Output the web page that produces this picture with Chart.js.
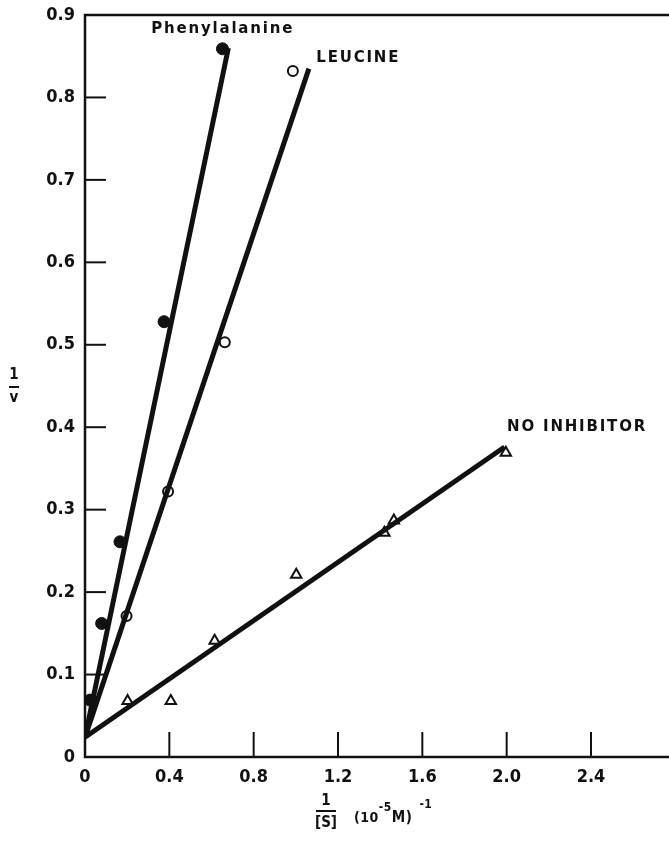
<!DOCTYPE html>
<html>
<head>
<meta charset="utf-8">
<script src="https://cdn.jsdelivr.net/npm/chart.js@4.4.1/dist/chart.umd.min.js"></script>
<style>
  html, body { margin: 0; padding: 0; background: #fff; overflow: hidden; }
  canvas { display: block; }
</style>
</head>
<body>
<canvas id="lineweaver" width="669" height="841"></canvas>
<script>
const pheX = [0.024, 0.079, 0.166, 0.375, 0.652];
const pheY = [0.069, 0.162, 0.261, 0.528, 0.859];
const leuX = [0.197, 0.394, 0.663, 0.986];
const leuY = [0.171, 0.322, 0.503, 0.832];
const noInhX = [0.202, 0.407, 0.615, 1.002, 1.42, 1.465, 1.996];
const noInhY = [0.068, 0.068, 0.141, 0.221, 0.272, 0.287, 0.369];

// fitted lines: start and end of each drawn line
const pheFitX = [0, 0.68];
const pheFitY = [0.024, 0.86];
const leuFitX = [0, 1.062];
const leuFitY = [0.024, 0.835];
const noInhFitX = [0, 1.99];
const noInhFitY = [0.024, 0.376];

const xTicks = [0, 0.4, 0.8, 1.2, 1.6, 2.0, 2.4];
const yTicks = [0, 0.1, 0.2, 0.3, 0.4, 0.5, 0.6, 0.7, 0.8, 0.9];

const labels = [
    { text: "Phenylalanine", x: 0.653, y: 0.883, align: "center" },
    { text: "LEUCINE", x: 1.097, y: 0.848, align: "left" },
    { text: "NO INHIBITOR", x: 2.002, y: 0.4, align: "left" }
];

function pts(xs, ys) {
    return xs.map((x, i) => ({ x: x, y: ys[i] }));
}

const ink = "#111";
const fam = "'DejaVu Sans Condensed', 'DejaVu Sans', sans-serif";

// draws pieces of text one after another, each with its own size and lift
function runText(ctx, x, y, parts) {
    parts.forEach(p => {
        ctx.font = "bold " + p.size + "px " + fam;
        ctx.fillText(p.t, x, y - (p.up || 0));
        x += ctx.measureText(p.t).width + (p.gap || 0);
    });
}

// inward tick marks, frame, series labels and axis titles
const decorations = {
    id: "decorations",
    afterDraw(chart) {
        const ctx = chart.ctx;
        const xs = chart.scales.x;
        const ys = chart.scales.y;
        const area = chart.chartArea;
        ctx.save();
        ctx.strokeStyle = ink;
        ctx.fillStyle = ink;

        // frame: left, bottom, top (right edge is cut off)
        ctx.lineWidth = 2.5;
        ctx.beginPath();
        ctx.moveTo(area.right, area.top);
        ctx.lineTo(area.left, area.top);
        ctx.lineTo(area.left, area.bottom);
        ctx.lineTo(area.right, area.bottom);
        ctx.stroke();

        ctx.lineWidth = 2;
        yTicks.slice(1, -1).forEach(v => {
            const py = ys.getPixelForValue(v);
            ctx.beginPath();
            ctx.moveTo(area.left, py);
            ctx.lineTo(area.left + 21, py);
            ctx.stroke();
        });
        xTicks.slice(1).forEach(v => {
            const px = xs.getPixelForValue(v);
            ctx.beginPath();
            ctx.moveTo(px, area.bottom);
            ctx.lineTo(px, area.bottom - 25);
            ctx.stroke();
        });

        // series labels
        ctx.font = "bold 15px 'DejaVu Sans', sans-serif";
        ctx.letterSpacing = "1.8px";
        ctx.textBaseline = "middle";
        labels.forEach(l => {
            ctx.textAlign = l.align;
            ctx.fillText(l.text, xs.getPixelForValue(l.x), ys.getPixelForValue(l.y));
        });

        // y title: 1 over v
        ctx.letterSpacing = "0px";
        ctx.textAlign = "center";
        ctx.font = "bold 15px " + fam;
        const tx = 14, ty = 387;
        ctx.fillText("1", tx, ty - 12);
        ctx.fillRect(tx - 5, ty - 1, 10, 2);
        ctx.fillText("v", tx, ty + 11);

        // x title: 1 over [S], then (10^-5 M)^-1
        const fx = 326, fy = 811;
        ctx.fillText("1", fx, fy - 10);
        ctx.fillRect(fx - 10, fy - 1, 20, 2);
        ctx.fillText("[S]", fx, fy + 12);
        ctx.textAlign = "left";
        ctx.letterSpacing = "0.5px";
        runText(ctx, 354, fy + 7, [
            { t: "(10", size: 14 },
            { t: "-5", size: 12, up: 10 },
            { t: "M)", size: 15, gap: 7 },
            { t: "-1", size: 12, up: 13 }
        ]);
        ctx.restore();
    }
};

const lineStyle = { type: "line", borderColor: ink, borderWidth: 5, pointRadius: 0, fill: false, showLine: true };

new Chart(document.getElementById("lineweaver").getContext("2d"), {
    type: "scatter",
    data: {
        datasets: [
            Object.assign({ label: "Phenylalanine fit", data: pts(pheFitX, pheFitY) }, lineStyle),
            Object.assign({ label: "Leucine fit", data: pts(leuFitX, leuFitY) }, lineStyle),
            Object.assign({ label: "No inhibitor fit", data: pts(noInhFitX, noInhFitY) }, lineStyle),
            {
                label: "Phenylalanine",
                data: pts(pheX, pheY),
                pointStyle: "circle",
                pointRadius: 6,
                backgroundColor: ink,
                borderColor: ink,
                borderWidth: 1
            },
            {
                label: "Leucine",
                data: pts(leuX, leuY),
                pointStyle: "circle",
                pointRadius: 5,
                backgroundColor: "#fff",
                borderColor: ink,
                borderWidth: 2
            },
            {
                label: "No inhibitor",
                data: pts(noInhX, noInhY),
                pointStyle: "triangle",
                pointRadius: 6,
                backgroundColor: "#fff",
                borderColor: ink,
                borderWidth: 2
            }
        ]
    },
    options: {
        responsive: false,
        maintainAspectRatio: false,
        animation: false,
        devicePixelRatio: 1,
        layout: { autoPadding: false, padding: { top: 15, right: 0, left: 0, bottom: 0 } },
        plugins: {
            legend: { display: false },
            tooltip: { enabled: false }
        },
        scales: {
            x: {
                type: "linear",
                min: 0,
                max: 2.77,
                afterFit: s => { s.height = 84; s.paddingLeft = 0; s.paddingRight = 0; },
                afterBuildTicks: s => { s.ticks = xTicks.map(v => ({ value: v })); },
                grid: { display: false, drawTicks: false },
                border: { display: false },
                ticks: {
                    padding: 10,
                    color: ink,
                    font: { family: fam, size: 18, weight: "bold" },
                    callback: v => v === 0 ? "0" : v.toFixed(1)
                }
            },
            y: {
                type: "linear",
                min: 0,
                max: 0.9,
                afterFit: s => { s.width = 85; s.paddingTop = 0; s.paddingBottom = 0; },
                afterBuildTicks: s => { s.ticks = yTicks.map(v => ({ value: v })); },
                grid: { display: false, drawTicks: false },
                border: { display: false },
                ticks: {
                    padding: 10,
                    color: ink,
                    font: { family: fam, size: 18, weight: "bold" },
                    callback: v => v === 0 ? "0" : v.toFixed(1)
                }
            }
        }
    },
    plugins: [decorations]
});
</script>
</body>
</html>
